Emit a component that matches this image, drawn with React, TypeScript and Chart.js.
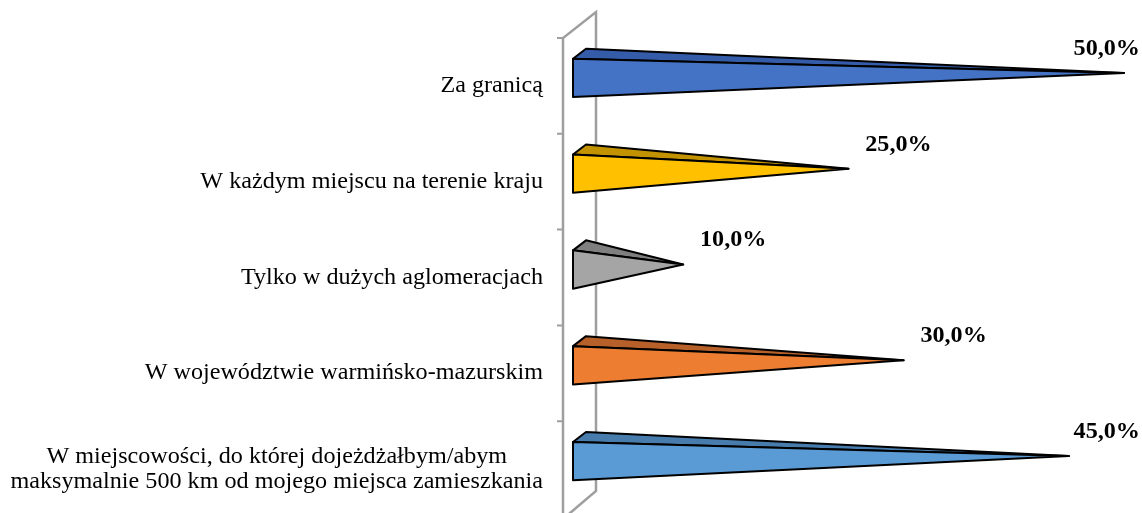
import { useEffect, useRef } from "react";
import { Chart, registerables } from "chart.js";

Chart.register(...registerables);

const categories: string[][] = [
  ["Za granicą"],
  ["W każdym miejscu na terenie kraju"],
  ["Tylko w dużych aglomeracjach"],
  ["W województwie warmińsko-mazurskim"],
  ["W miejscowości, do której dojeżdżałbym/abym", "maksymalnie 500 km od mojego miejsca zamieszkania"],
];
const values: number[] = [50, 25, 10, 30, 45];
const valueLabels: string[] = ["50,0%", "25,0%", "10,0%", "30,0%", "45,0%"];
const frontColors: string[] = ["#4472C4", "#FFC000", "#A5A5A5", "#ED7D31", "#5B9BD5"];
const topColors: string[] = ["#345CA8", "#C29200", "#7F7F7F", "#B8602A", "#477CAD"];

const W = 1142;
const H = 517;
const FONT_PX = 23;
const SX = 1.05;
const DEPTH_X = 13;
const DEPTH_Y = -10;

function drawScaledText(ctx: CanvasRenderingContext2D, text: string, x: number, y: number) {
  ctx.save();
  ctx.translate(x, y);
  ctx.scale(SX, 1);
  ctx.fillText(text, 0, 0);
  ctx.restore();
}

const pyramidPlugin = {
  id: "pyramid3d",
  beforeDatasetsDraw(chart: any) {
    const ctx: CanvasRenderingContext2D = chart.ctx;
    const ca = chart.chartArea;
    const yScale = chart.scales.y;
    const x0 = chart.scales.x.getPixelForValue(0);
    const fx = x0 - 10;
    const bx = x0 + 23;
    const wd = -26;
    ctx.save();
    ctx.strokeStyle = "#9E9E9E";
    ctx.lineWidth = 2.5;
    ctx.beginPath();
    ctx.moveTo(fx, ca.bottom + 2);
    ctx.lineTo(fx, ca.top);
    ctx.lineTo(bx, ca.top + wd);
    ctx.lineTo(bx, ca.bottom + wd);
    ctx.lineTo(fx, ca.bottom + 2);
    ctx.stroke();
    ctx.lineWidth = 2;
    ctx.beginPath();
    for (let i = 0; i <= categories.length; i++) {
      const y = yScale.getPixelForValue(i - 0.5);
      ctx.moveTo(fx - 6, y);
      ctx.lineTo(fx, y);
    }
    ctx.stroke();

    // category labels
    ctx.fillStyle = "#000000";
    ctx.font = `${FONT_PX}px "Liberation Serif", "Times New Roman", serif`;
    ctx.textBaseline = "middle";
    const rightX = x0 - 30;
    const lineH = 25;
    categories.forEach((lines, i) => {
      const yc = yScale.getPixelForTick(i);
      const widths = lines.map((l) => ctx.measureText(l).width * SX);
      const maxW = Math.max(...widths);
      const startY = yc - ((lines.length - 1) * lineH) / 2;
      lines.forEach((l, j) => {
        const w = widths[j];
        const lx = rightX - maxW / 2 - w / 2;
        ctx.textAlign = "left";
        drawScaledText(ctx, l, lx, startY + j * lineH);
      });
    });
    ctx.restore();
  },
  afterDatasetsDraw(chart: any) {
    const ctx: CanvasRenderingContext2D = chart.ctx;
    const meta = chart.getDatasetMeta(0);
    ctx.save();
    ctx.lineJoin = "round";
    meta.data.forEach((el: any, i: number) => {
      const b = el.base;
      const a = el.x;
      const h = el.height;
      const yc = el.y - 8;
      const yTop = yc - h / 2;
      const yBot = yc + h / 2;
      const apexY = yc - 5;
      ctx.lineWidth = 2;
      ctx.strokeStyle = "#000000";
      // top face
      ctx.beginPath();
      ctx.moveTo(b, yTop);
      ctx.lineTo(b + DEPTH_X, yTop + DEPTH_Y);
      ctx.lineTo(a, apexY);
      ctx.closePath();
      ctx.fillStyle = topColors[i];
      ctx.fill();
      ctx.stroke();
      // front face
      ctx.beginPath();
      ctx.moveTo(b, yTop);
      ctx.lineTo(b, yBot);
      ctx.lineTo(a, apexY);
      ctx.closePath();
      ctx.fillStyle = frontColors[i];
      ctx.fill();
      ctx.stroke();

      // value label
      ctx.font = `bold ${FONT_PX}px "Liberation Serif", "Times New Roman", serif`;
      ctx.fillStyle = "#000000";
      ctx.textBaseline = "middle";
      ctx.textAlign = "left";
      const label = valueLabels[i];
      const lw = ctx.measureText(label).width * SX;
      let cx = a + 50;
      if (cx + lw / 2 > W - 2) cx = W - 2 - lw / 2;
      drawScaledText(ctx, label, cx - lw / 2, el.y - 37);
    });
    ctx.restore();
  },
};

export default function App() {
  const canvasRef = useRef<HTMLCanvasElement | null>(null);

  useEffect(() => {
    if (!canvasRef.current) return;
    const chart = new Chart(canvasRef.current, {
      type: "bar",
      data: {
        labels: categories.map((c) => c.join(" ")),
        datasets: [
          {
            data: values,
            backgroundColor: "rgba(0,0,0,0)",
            borderWidth: 0,
            barPercentage: 0.4,
            categoryPercentage: 1,
          },
        ],
      },
      options: {
        indexAxis: "y",
        animation: false,
        responsive: false,
        maintainAspectRatio: false,
        layout: { padding: { left: 573, right: W - 1124, top: 38, bottom: 0 } },
        scales: {
          x: { display: false, min: 0, max: 50 },
          y: { display: false, type: "category" },
        },
        plugins: {
          legend: { display: false },
          tooltip: { enabled: false },
        },
      },
      plugins: [pyramidPlugin],
    });
    return () => chart.destroy();
  }, []);

  return (
    <div style={{ position: "absolute", left: 0, top: 0, width: W, height: 513, overflow: "hidden", background: "#ffffff" }}>
      <canvas ref={canvasRef} width={W} height={H} style={{ display: "block", width: W, height: H }} />
    </div>
  );
}
